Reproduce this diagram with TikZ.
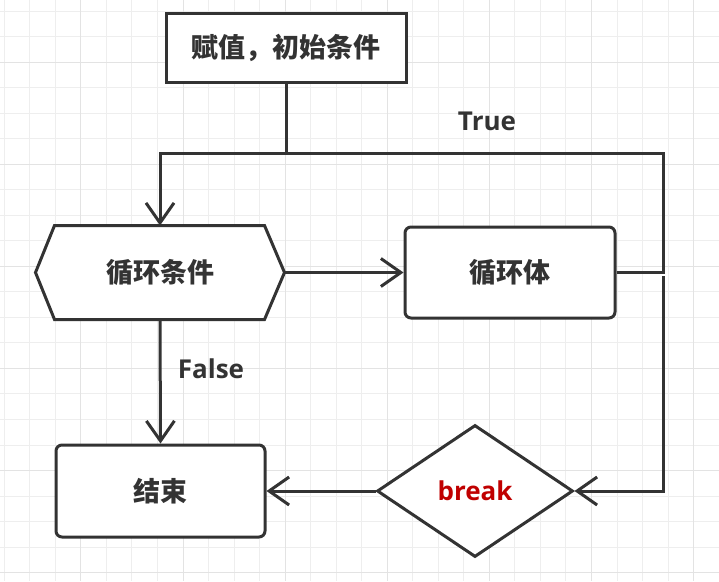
\documentclass[tikz,border=0pt]{standalone}
\usepackage{fontspec}
\setmainfont{Open Sans}
\newfontfamily\cjk{Noto Sans CJK SC}
\usetikzlibrary{arrows.meta,shapes.geometric}
\definecolor{ink}{HTML}{333333}
\definecolor{brkred}{HTML}{C00000}
\definecolor{gridminor}{HTML}{EEEEEE}
\definecolor{gridmajor}{HTML}{E3E3E3}
\pgfdeclarelayer{bg}
\pgfdeclarelayer{shapes}
\pgfsetlayers{bg,shapes,main}
\begin{document}
\begin{tikzpicture}[x=1pt,y=-1pt,
  box/.style={draw=ink, line width=3pt, fill=white, inner sep=0pt, text=ink,
              font=\cjk\bfseries\fontsize{27}{27}\selectfont},
  conn/.style={draw=ink, line width=3pt},
  arr/.style={conn, -{Straight Barb[length=20pt,width=28pt]}},
  lbl/.style={text=ink, inner sep=0pt, font=\bfseries\fontsize{26}{26}\selectfont}]
\useasboundingbox (0,0) rectangle (719,581);
\begin{pgfonlayer}{bg}
  \fill[white] (0,0) rectangle (719,581);
  \foreach \i in {0,...,27}
    \draw[gridminor, line width=1pt] ({4.3+25.53*\i},0) -- ({4.3+25.53*\i},581);
  \foreach \j in {0,...,22}
    \draw[gridminor, line width=1pt] (0,{11+25.53*\j}) -- (719,{11+25.53*\j});
  \foreach \i in {3,7,...,27}
    \draw[gridmajor, line width=1pt] ({4.3+25.53*\i},0) -- ({4.3+25.53*\i},581);
  \foreach \j in {2,6,...,22}
    \draw[gridmajor, line width=1pt] (0,{11+25.53*\j}) -- (719,{11+25.53*\j});
\end{pgfonlayer}

% nodes
\node[box, minimum width=240pt, minimum height=69pt] (init) at (286,47.5) {赋值，初始条件};
\node[box, draw=none, fill=none, minimum width=246pt, minimum height=91pt] (cond) at (160,272.5) {循环条件};
\begin{pgfonlayer}{shapes}
  \draw[box] (cond.west) -- ([xshift=19pt]cond.north west) -- ([xshift=-20pt]cond.north east)
    -- (cond.east) -- ([xshift=-20pt]cond.south east) -- ([xshift=19pt]cond.south west) -- cycle;
\end{pgfonlayer}
\node[box, rounded corners=6pt, minimum width=210pt, minimum height=91pt] (body) at (510,272.5) {循环体};
\node[box, rounded corners=6pt, minimum width=209pt, minimum height=92pt] (end) at (160.5,491) {结束};
\node[box, shape=diamond, minimum width=196pt, minimum height=132pt, text=brkred,
      font=\bfseries\fontsize{26}{26}\selectfont] (brk) at (475,491) {break};

% labels
\node[lbl, anchor=base] (truelbl) at (487,130) {True};
\node[lbl, anchor=base] (falselbl) at (211,378) {False};

% coordinates
\coordinate (tr) at (663,153.5);
\coordinate (split) at (663.5,276);

% connectors
\draw[arr] (body.east) -| (tr) -| (cond.north);
\draw[conn] (init.south) -- (init.south |- tr);
\draw[arr] (cond.east) -- (body.west);
\draw[arr] (cond.south) -- (end.north);
\draw[arr] (split) |- (brk.east);
\draw[arr] (brk.west) -- (end.east);
\end{tikzpicture}
\end{document}
